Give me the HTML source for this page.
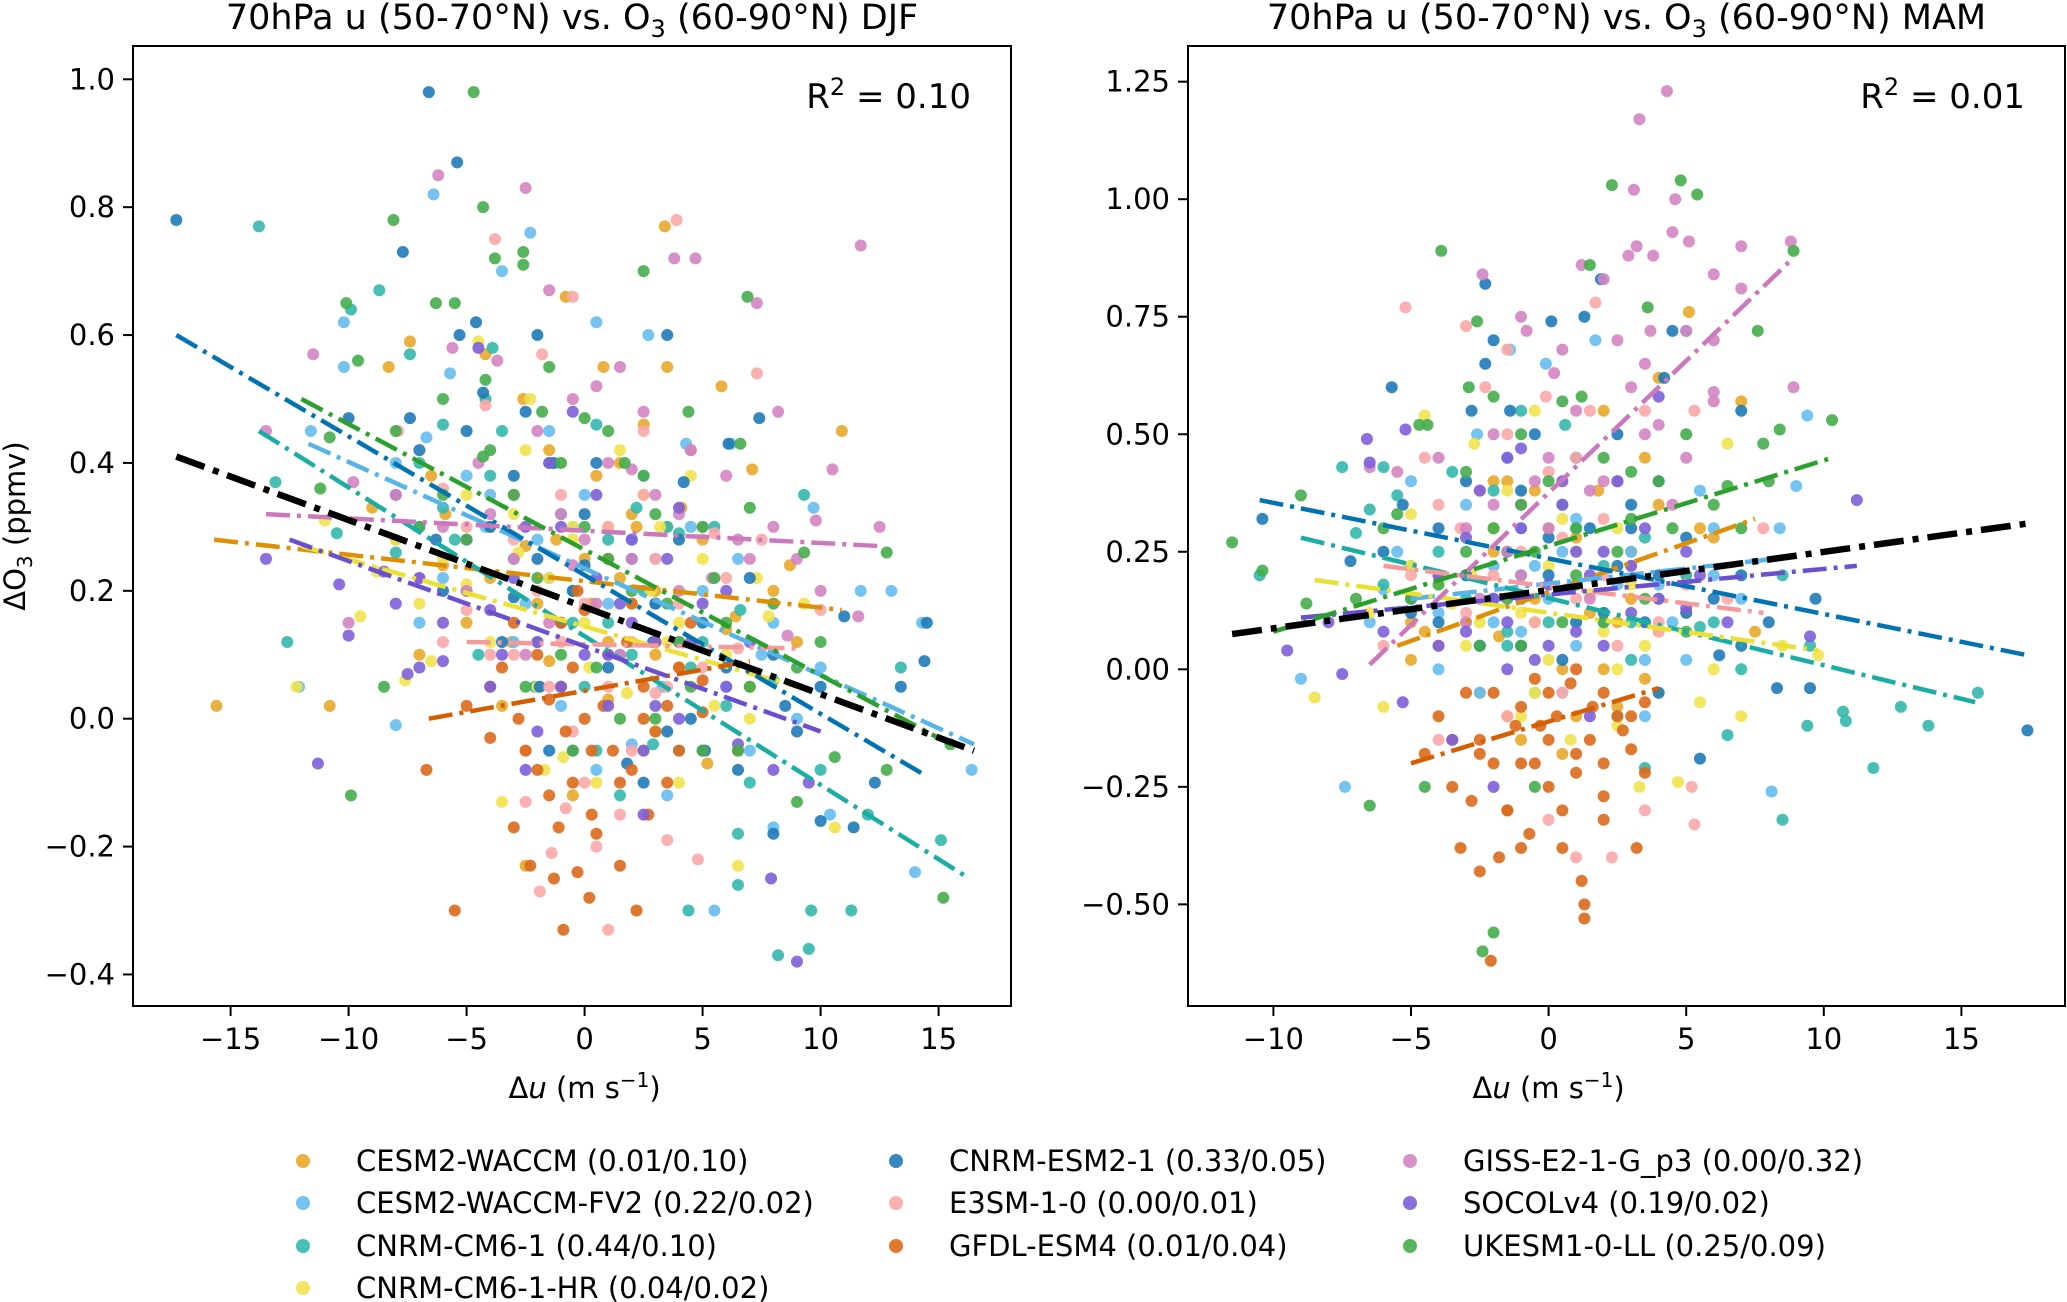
<!DOCTYPE html>
<html><head><meta charset="utf-8">
<style>
html,body{margin:0;padding:0;background:#fff;}
svg{display:block;font-family:"DejaVu Sans","Liberation Sans",sans-serif;}
</style></head>
<body>
<svg id="fig" width="2067" height="1302" viewBox="0 0 2067 1302" xmlns="http://www.w3.org/2000/svg"></svg>
<script>
// ---- data ----
const models = ["CESM2-WACCM","CESM2-WACCM-FV2","CNRM-CM6-1","CNRM-CM6-1-HR","CNRM-ESM2-1","E3SM-1-0","GFDL-ESM4","GISS-E2-1-G_p3","SOCOLv4","UKESM1-0-LL"];
const legendStats = ["(0.01/0.10)","(0.22/0.02)","(0.44/0.10)","(0.04/0.02)","(0.33/0.05)","(0.00/0.01)","(0.01/0.04)","(0.00/0.32)","(0.19/0.02)","(0.25/0.09)"];
const xTicksDJF = [-15,-10,-5,0,5,10,15];
const yTicksDJF = [-0.4,-0.2,0.0,0.2,0.4,0.6,0.8,1.0];
const yTickLabelsDJF = ["\u22120.4","\u22120.2","0.0","0.2","0.4","0.6","0.8","1.0"];
const xTicksMAM = [-10,-5,0,5,10,15];
const yTicksMAM = [-0.5,-0.25,0,0.25,0.5,0.75,1.0,1.25];
const yTickLabelsMAM = ["\u22120.50","\u22120.25","0.00","0.25","0.50","0.75","1.00","1.25"];
const r2Labels = ["0.10","0.01"];

const djfPoints = [
"-15.6,0.02 -10.8,0.02 3.4,0.77 -0.8,0.66 -4.2,0.57 -7.4,0.59 -8.3,0.55 0.8,0.55 3.5,0.55 5.8,0.52 10.9,0.45 -2.6,0.50 1.5,0.40 4.1,0.33 7.1,0.39 -5.9,0.32 -1.2,0.28 2.2,0.30 0.3,0.18 -3.1,0.12 3.0,0.10 -2.5,-0.23 6.4,0.16 8.7,0.24 -6.5,0.38 2.5,0.46 -4.0,0.22 1.0,0.03 5.2,-0.07 -1.5,0.09",
"-6.4,0.82 -2.3,0.76 -3.5,0.70 -10.2,0.55 -10.2,0.62 -5.7,0.54 0.5,0.62 2.7,0.60 -11.6,0.45 -6.7,0.44 -1.4,0.40 4.3,0.43 6.2,0.43 9.7,0.33 13.0,0.20 11.7,0.20 14.3,0.15 16.4,-0.08 14.0,-0.24 10.4,-0.15 8.0,-0.17 5.5,-0.30 -8.0,-0.01 -12.1,0.05 -4.2,0.30 2.0,0.28 7.5,0.10 -0.5,0.20 3.3,0.05 -7.0,0.15",
"-13.8,0.77 -8.7,0.67 -9.9,0.64 -7.4,0.57 -6.0,0.46 -4.2,0.50 -13.1,0.37 -12.6,0.12 -10.5,0.29 -3.9,0.58 2.2,0.33 0.5,0.46 -1.5,0.40 4.0,0.29 6.6,0.17 9.3,0.35 13.4,0.08 15.1,-0.19 11.3,-0.30 9.5,-0.36 8.2,-0.37 6.5,-0.26 4.4,-0.30 -2.1,0.05 2.9,-0.04 9.6,-0.30 12.0,-0.15 -5.5,0.28 1.0,0.15 -8.0,0.26",
"-12.2,0.05 -9.5,0.16 -7.6,0.06 -4.5,0.59 -2.3,0.50 -0.5,0.30 1.5,0.42 3.2,0.30 4.5,0.38 7.3,0.22 9.3,0.18 -8.8,0.23 -5.0,0.21 -1.0,0.15 1.8,0.04 4.0,-0.10 -0.9,-0.06 -3.5,-0.13 5.5,0.02 10.6,-0.17 6.5,-0.23 -6.5,0.09 0.2,0.08 2.8,0.20 -2.8,0.26 -11.0,0.31 7.8,0.16 -1.7,-0.08",
"-17.3,0.78 -6.6,0.98 -5.4,0.87 -7.7,0.73 -4.6,0.62 -5.3,0.60 -2.0,0.60 3.5,0.60 -10.0,0.47 -7.4,0.47 -1.3,0.40 -4.3,0.51 4.2,0.37 6.1,0.43 7.4,0.47 14.5,0.15 14.4,0.09 11.0,0.16 13.4,0.05 12.3,-0.10 10.0,-0.16 11.4,-0.17 8.0,-0.18 1.8,-0.07 5.1,-0.05 -3.0,0.19 0.0,0.24 -1.9,0.05 2.9,0.12 -6.3,0.28 8.5,0.02",
"3.9,0.78 -3.8,0.75 -0.5,0.66 7.3,0.54 -1.8,0.57 -4.2,0.49 2.5,0.45 5.5,0.29 7.5,0.28 10.0,0.17 -7.9,0.45 -5.0,0.17 -1.0,0.12 1.0,0.05 3.0,0.04 -2.5,-0.13 -1.4,-0.21 -1.9,-0.27 1.0,-0.33 4.8,-0.22 0.0,-0.10 2.0,-0.05 -3.0,0.10 6.5,0.11 -6.0,0.36 3.5,-0.19 -0.8,-0.14",
"-5.5,-0.30 -0.9,-0.33 2.2,-0.30 0.2,-0.28 -0.3,-0.24 -1.3,-0.25 1.5,-0.23 -2.3,-0.23 -3.0,-0.17 -1.1,-0.17 0.3,-0.15 2.7,-0.15 -0.5,-0.10 1.2,-0.05 -2.0,-0.08 3.5,-0.10 -4.0,-0.03 -6.7,-0.08 0.8,0.02 2.5,0.05 -1.5,0.03 4.0,0.08 5.0,0.01 6.5,-0.05 -3.5,0.08 1.8,0.12 0.0,0.17 -2.8,0.00 3.0,-0.02 -0.8,-0.02",
"-6.2,0.85 -2.5,0.83 11.7,0.74 3.8,0.72 4.7,0.72 7.3,0.65 -1.5,0.67 1.5,0.55 -11.5,0.57 -5.6,0.58 -3.7,0.56 0.5,0.52 8.2,0.48 10.5,0.39 9.8,0.31 12.5,0.30 11.6,0.16 -13.5,0.45 -9.8,0.37 -3.0,0.35 2.0,0.39 4.0,0.32 6.5,0.28 -7.0,0.22 -0.5,0.24 5.4,0.22 -10.0,0.15 1.5,0.10 8.6,0.13 -4.5,0.40",
"-11.3,-0.07 9.0,-0.38 7.9,-0.25 -10.0,0.13 -10.4,0.21 -8.5,0.23 -7.5,0.07 -6.0,0.09 -4.5,0.58 -0.5,0.48 4.0,0.33 -13.5,0.25 -2.5,0.30 0.5,0.22 2.0,0.15 4.5,0.12 6.0,0.20 3.0,0.02 -1.0,0.05 -3.5,0.10 6.5,-0.04 9.5,-0.10 2.5,-0.15 -4.0,0.17 -7.0,0.22 1.0,0.10 5.0,-0.05 -2.0,-0.02",
"-4.7,0.98 -4.3,0.80 -8.1,0.78 -2.6,0.73 -2.6,0.71 2.5,0.70 -3.8,0.72 -10.1,0.65 -5.5,0.65 -6.3,0.65 6.9,0.66 -9.6,0.56 -4.2,0.53 -1.8,0.48 0.0,0.47 4.4,0.48 6.6,0.43 -10.8,0.44 -11.2,0.36 -4.3,0.41 1.7,0.40 5.5,0.22 7.0,0.33 9.3,0.26 12.8,0.26 15.2,-0.28 15.5,-0.04 12.8,-0.08 10.6,-0.06 9.0,-0.13 -9.9,-0.12 -8.5,0.05 -1.0,0.10 3.0,0.00 5.0,-0.05 -6.0,0.35 1.0,0.25"
];
const djfPoints2 = [
"-3,0.35 -2,0.18 -1,0.05 0,0.25 1,0.12 2,0.32 3,0.20 4,0.08 5,0.28 6,0.14 -4,0.30 -5,0.15 -6,0.24 -7,0.10 7,0.05 8,0.20 -1.5,0.42 0.5,0.38 2.5,-0.05 -3.5,0.02 4.5,0.42 -0.5,-0.12 1.5,0.22 -2.5,0.27 3.5,0.30 -8,0.28 9,0.12 -9,0.33",
"-4,0.35 -3,0.12 -2,0.28 -1,0.02 0,0.35 1,0.18 2,-0.04 3,0.25 4,0.12 5,0.20 6,0.05 7,-0.05 8,0.15 -5,0.38 -6,0.22 -7,0.30 -8,0.40 9,0.00 10,0.08 -1.5,0.45 0.5,-0.08 2.5,0.38 -2.5,0.18 3.5,-0.12 -0.5,0.30 1.5,0.10 4.5,0.30 6.5,0.25",
"-7,0.40 -6,0.33 -5,0.20 -4,0.38 -3,0.25 -2,0.12 -1,0.32 0,0.05 1,0.28 2,0.10 3,0.18 4,-0.05 5,0.12 6,0.02 7,-0.10 8,0.06 10,-0.08 -3.5,0.45 -1.5,0.22 0.5,-0.05 2.5,0.20 4.5,0.08 -0.5,0.15 1.5,-0.12 3.5,0.30 -4.5,0.10 6.5,-0.18 5.5,0.30",
"-6,0.25 -5,0.35 -4,0.12 -3,0.32 -2,0.05 -1,0.40 0,0.15 1,0.30 2,0.18 3,-0.02 4,0.15 5,0.25 6,0.10 7,0.00 -7,0.18 -8,0.28 -1.5,0.22 0.5,-0.10 2.5,0.35 -2.5,0.42 3.5,0.12 -0.5,0.28",
"-8,0.35 -7,0.42 -6,0.20 -5,0.45 -4,0.30 -3,0.38 -2,0.25 -1,0.15 0,0.32 1,0.08 2,0.25 3,0.18 4,0.28 5,0.15 6,0.08 7,0.22 8,0.10 9,-0.02 10,0.05 -1.5,-0.05 0.5,0.40 2.5,-0.10 4.5,0.00 -2.5,0.48 3.5,-0.02 6.5,-0.08 -3.5,0.12 -0.5,0.20",
"-5,0.30 -4,0.10 -3,0.28 -2,0.20 -1,0.35 0,0.18 1,0.30 2,0.12 3,0.25 4,0.18 5,0.08 6,0.22 -6,0.12 -0.5,-0.02 1.5,-0.15 2.5,0.35 -1.5,0.05 0.5,-0.20 3.5,0.05 -2.5,-0.05",
"-4,0.05 -3,0.15 -2,0.10 -1,0.05 0,0.00 1,0.10 2,-0.08 3,0.12 4,-0.05 5,0.06 -5,0.02 -0.5,0.08 0.5,-0.18 1.5,-0.10 2.5,0.00 -1.5,-0.12 -2.5,-0.05 3.5,0.02 0.3,-0.05 -0.3,0.20 1.0,0.25 2.0,0.18 -1.0,0.15 4.5,0.15",
"-6,0.30 -5,0.20 -4,0.32 -3,0.25 -2,0.45 -1,0.32 0,0.28 1,0.40 2,0.25 3,0.35 4,0.20 5,0.30 6,0.38 7,0.25 8,0.30 -8,0.35 -1.5,0.15 0.5,0.18 2.5,0.48 -2.5,0.10 4.5,0.42 -0.5,0.50 9,0.25 10,0.20",
"-6,0.15 -5,0.28 -4,0.05 -3,0.22 -2,0.12 -1,0.30 0,0.10 1,0.02 2,0.28 3,0.12 4,0.00 5,0.18 6,0.05 7,0.12 8,-0.08 -7,0.08 -8,0.18 -1.5,0.40 0.5,0.35 2.5,-0.05 -2.5,-0.08 3.5,0.25 -0.5,-0.05 1.5,0.18",
"-8,0.45 -7,0.30 -6,0.50 -5,0.28 -4,0.42 -3,0.35 -2,0.22 -1,0.40 0,0.30 1,0.45 2,0.20 3,0.32 4,0.12 5,0.30 6,0.15 7,0.05 8,0.18 9,0.08 10,0.12 -1.5,0.55 0.5,0.08 2.5,0.38 -2.5,0.05 3.5,0.18 -0.5,-0.05 1.5,0.00 4.5,0.05 6.5,-0.05"
];
const mamPoints = [
"5.1,0.76 7.0,0.57 4.0,0.62 -1.5,0.40 1.8,0.38 3.0,0.25 5.5,0.30 -3.0,0.20 -0.5,0.15 2.5,0.10 -4.0,0.05 0.5,0.00 -2.5,-0.05 1.0,-0.10 -1.0,-0.15 4.0,0.15 7.5,0.08 -5.0,0.02 -4.5,0.08 0.0,0.30 2.0,0.55 -2.0,0.40 3.5,-0.02 -1.8,0.07",
"-0.1,0.65 -1.4,0.68 1.7,0.70 -2.6,0.50 -5.5,0.25 -7.4,-0.25 8.1,-0.26 9.4,0.54 9.0,0.39 8.4,0.30 -6.0,0.17 -3.0,0.20 0.5,0.25 2.5,0.18 5.5,0.38 6.0,0.20 -2.0,0.10 -9.0,-0.02 -4.0,0.00 1.0,0.05 3.5,0.02 -1.0,0.30 4.5,0.10 7.0,0.15 -6.5,0.10",
"5.0,0.72 -1.0,0.55 0.6,0.52 -5.5,0.37 -6.0,0.43 -7.5,0.43 -6.5,0.34 -3.5,0.42 -7.0,0.29 -10.5,0.20 8.5,0.20 9.5,0.05 10.7,-0.09 10.8,-0.11 12.8,-0.08 13.8,-0.12 15.6,-0.05 11.8,-0.21 8.5,-0.32 9.4,-0.12 5.5,0.09 3.0,0.10 1.0,0.18 -2.0,0.30 3.5,-0.21 6.5,-0.14 -6.0,0.18 -1.5,0.05",
"-4.5,0.54 -2.7,0.48 -0.5,0.55 2.5,0.30 -5.0,0.33 -8.5,-0.06 -6.0,-0.08 -0.5,0.10 1.5,0.16 3.5,0.05 5.5,-0.07 6.5,0.48 4.7,-0.24 3.3,-0.25 -2.8,0.20 -1.0,-0.10 0.8,-0.15 2.5,0.00 4.0,0.08 9.8,0.03 7.0,-0.10 -3.5,0.14 -6.5,0.12 0.0,0.22 8.5,0.05",
"-2.3,0.82 -2.0,0.70 1.3,0.75 0.1,0.74 1.9,0.83 -2.3,0.65 -5.7,0.60 -2.8,0.55 -1.4,0.55 4.2,0.62 4.5,0.72 7.0,0.55 -10.4,0.32 -7.2,0.23 -5.3,0.35 -3.0,0.20 0.0,0.28 2.5,0.22 4.0,0.40 5.0,0.12 6.2,0.03 8.3,-0.04 9.5,-0.04 9.7,0.15 17.4,-0.13 5.5,-0.19 4.0,-0.05 -1.0,0.05 1.0,0.10 -4.0,0.10 3.0,0.30 7.0,0.20",
"-5.2,0.77 -3.0,0.73 1.7,0.78 -1.5,0.68 -2.3,0.60 -0.1,0.58 1.0,0.45 3.5,0.55 5.3,0.55 -4.5,0.45 -5.0,0.20 -3.2,0.30 -1.0,0.35 2.0,0.20 4.0,0.08 6.5,0.15 7.8,0.30 -4.0,-0.15 -1.5,-0.10 0.0,-0.32 1.0,-0.40 2.3,-0.40 3.5,-0.30 5.3,-0.33 5.2,-0.25 -6.0,0.05 0.5,-0.05",
"-2.1,-0.62 -1.0,-0.38 -1.8,-0.40 -2.5,-0.43 -3.2,-0.38 0.5,-0.38 1.2,-0.45 1.3,-0.50 1.3,-0.53 3.2,-0.38 -0.7,-0.35 -1.5,-0.30 0.0,-0.25 2.0,-0.27 -2.8,-0.28 -0.5,-0.20 1.0,-0.18 -1.2,-0.12 0.3,-0.10 2.7,-0.13 3.5,-0.07 -3.5,-0.15 -4.5,-0.18 -2.0,-0.05 0.8,-0.03 2.0,-0.20 -0.3,-0.12 1.6,-0.08 -2.5,-0.15 3.0,-0.17",
"4.3,1.23 3.3,1.17 3.1,1.02 4.6,1.00 5.1,0.91 4.5,0.93 3.2,0.90 3.8,0.88 7.0,0.90 8.8,0.91 2.9,0.88 2.0,0.83 -2.4,0.84 1.2,0.86 6.0,0.84 7.0,0.81 5.0,0.72 3.7,0.72 6.0,0.59 8.9,0.60 -0.8,0.72 -1.0,0.75 0.2,0.63 3.5,0.50 6.0,0.57 -4.0,0.45 -2.0,0.35 0.0,0.30 1.5,0.15 -5.5,0.42 -6.5,0.43 -3.0,0.10 -1.0,0.20 2.5,0.40 4.5,0.35",
"-6.6,0.49 -5.2,0.51 -6.5,0.44 -7.5,-0.01 -9.5,0.04 -5.3,-0.07 -1.0,0.47 -1.5,0.45 4.0,0.58 3.5,0.30 0.5,0.40 -3.0,0.28 -1.0,0.15 1.0,0.08 2.0,0.25 3.0,0.12 5.0,0.13 6.5,0.10 9.5,0.07 11.2,0.36 -4.0,0.05 -1.5,0.00 0.0,0.05 1.5,-0.10 -3.5,-0.15 -2.0,-0.25 5.5,0.20 -8.0,0.10",
"2.3,1.03 4.8,1.04 5.4,1.01 8.9,0.89 -3.9,0.89 1.5,0.86 3.6,0.77 7.6,0.72 -2.6,0.74 -2.9,0.60 -2.0,0.58 0.5,0.57 1.2,0.58 -4.4,0.52 -4.7,0.52 8.4,0.51 10.3,0.53 7.8,0.48 6.5,0.39 8.0,0.40 -11.5,0.27 -10.4,0.21 -9.0,0.37 -8.8,0.14 -5.5,0.33 -3.0,0.25 -1.0,0.35 1.0,0.30 3.0,0.42 4.5,0.30 -6.5,-0.29 -2.0,-0.56 -2.4,-0.60 -0.5,-0.25 -4.5,-0.25 2.0,0.10 -1.0,0.05 5.0,0.08 -7.0,0.15"
];
const mamPoints2 = [
"-4,0.20 -3,0.10 -2,0.25 -1,0.05 0,0.18 1,0.28 2,0.00 3,0.15 4,0.35 5,0.20 6,0.28 -5,0.10 -1.5,-0.10 0.5,-0.18 2.5,-0.08 3.5,0.45 -0.5,0.38 1.5,0.12",
"-4,0.12 -3,0.35 -2,0.22 -1,0.08 0,0.15 1,0.32 2,0.10 3,0.25 4,0.18 5,0.02 6,0.30 -5,0.40 -1.5,0.45 0.5,-0.05 2.5,0.40 -2.5,-0.05 3.5,-0.10 -0.5,0.22",
"-4,0.25 -3,0.15 -2,0.38 -1,0.20 0,0.10 1,0.30 2,0.22 3,0.02 4,0.15 5,0.20 6,0.10 7,0.00 -5,0.22 -1.5,0.08 0.5,0.35 2.5,-0.10 -2.5,0.05 3.5,0.28 -0.5,-0.05",
"-4,0.18 -3,0.05 -2,0.30 -1,0.12 0,0.02 1,0.25 2,0.08 3,0.18 4,-0.05 5,0.12 6,0.00 -5,0.22 -1.5,0.38 0.5,0.32 2.5,-0.12 -2.5,0.10 -0.5,-0.05",
"-4,0.30 -3,0.40 -2,0.15 -1,0.38 0,0.20 1,0.45 2,0.12 3,0.35 4,0.20 5,0.28 6,0.15 7,0.05 -5,0.12 -6,0.25 -1.5,0.25 0.5,0.02 2.5,0.50 -2.5,0.05 3.5,0.10 -0.5,0.50 1.5,0.30 8,0.10",
"-4,0.35 -3,0.12 -2,0.20 -1,0.25 0,0.42 1,0.15 2,0.32 3,0.22 4,0.10 5,0.18 -1.5,0.50 0.5,0.28 2.5,0.05 -2.5,0.38 -0.5,0.10 1.5,0.55",
"-3,-0.05 -2,-0.20 -1,-0.08 0,-0.15 1,-0.22 2,-0.05 3,-0.10 -4,-0.10 -1.5,-0.30 0.5,-0.30 1.5,-0.15 -0.5,-0.02 2.5,-0.10 -2.5,-0.18 0,-0.05 1,0.00 -1,-0.20 2,-0.32 -3.5,-0.25 3.5,-0.22",
"-3,0.30 -2,0.50 -1,0.35 0,0.45 1,0.55 2,0.40 3,0.60 4,0.52 5,0.45 -4,0.20 -1.5,0.25 0.5,0.68 2.5,0.70 -2.5,0.15 1.5,0.38 3.5,0.65 -0.5,0.40 6,0.70",
"-4,0.20 -3,0.08 -2,0.15 -1,0.30 0,0.18 1,0.25 2,0.05 3,0.22 4,0.15 5,0.25 -5,0.15 -6,0.08 -1.5,0.10 0.5,0.35 2.5,0.40 -2.5,0.38 -0.5,0.02 1.5,0.20",
"-4,0.18 -3,0.42 -2,0.30 -1,0.50 0,0.40 1,0.20 2,0.45 3,0.32 4,0.40 5,0.50 6,0.35 -5,0.15 -6,0.30 -1.5,0.15 0.5,0.10 2.5,0.25 -2.5,0.05 3.5,0.15 -0.5,0.25 7,0.30"
];
// regression line endpoints [x1,y1,x2,y2] per model
const djfFits = [[-15.7,0.28,10.9,0.17],[-11.7,0.43,16.5,-0.04],[-13.8,0.45,16.3,-0.25],[-12,0.27,9,0.05],[-17.3,0.60,14.5,-0.09],[-5,0.12,9,0.11],[-6.6,0.0,7,0.09],[-13.5,0.32,12.5,0.27],[-12.5,0.28,10,-0.02],[-12,0.5,15.5,-0.04]];
const djfMean = [-17.3,0.41,16.5,-0.05];
const mamFits = [[-5.5,0.05,7.5,0.32],[-5,0.15,9,0.24],[-9,0.28,15.5,-0.07],[-8.5,0.19,9.8,0.04],[-10.5,0.36,17.4,0.03],[-6,0.22,7.8,0.12],[-5,-0.2,4,-0.04],[-6.5,0.01,8.8,0.87],[-9,0.11,11.2,0.22],[-10,0.08,10.3,0.45]];
const mamMean = [-11.5,0.075,17.4,0.31];

const markerColors = ["#e9a829","#66bdee","#34b8ad","#f0e34c","#1f7ab8","#fba7a9","#dc6a1c","#d384c2","#7e5fd8","#45ad4c"];
const lineColors = ["#de8f05","#56b4e9","#1aada3","#ece133","#0173b2","#f59a9a","#d55e00","#cc78bc","#6a4fd0","#2ca02c"];

const NS = "http://www.w3.org/2000/svg";
const svg = document.getElementById("fig");
function el(tag, attrs, parent){ const e=document.createElementNS(NS,tag); for(const k in attrs) e.setAttribute(k,attrs[k]); (parent||svg).appendChild(e); return e; }
function parsePts(s){ return s.trim().split(/\s+/).map(p=>p.split(",").map(Number)); }

function panel(p){
  const g = el("g",{});
  
  
  const sx = v => p.x0 + v*p.xs;
  const sy = v => p.y0 - v*p.ys;
  const cp = "clip-"+p.name;
  const cl = el("clipPath",{id:cp},g); el("rect",{x:p.L,y:p.T,width:p.R-p.L,height:p.B-p.T},cl);
  const plot = el("g",{"clip-path":"url(#"+cp+")"},g);
  p.points.forEach((s,i)=>{
    parsePts(s+" "+p.points2[i]).forEach(([x,y])=>{
      const c = el("circle",{cx:sx(x),cy:sy(y),r:6,fill:markerColors[i],"fill-opacity":0.9},plot);
      
      
    });
  });
  p.fits.forEach((f,i)=>{
    const l = el("line",{x1:sx(f[0]),y1:sy(f[1]),x2:sx(f[2]),y2:sy(f[3]),stroke:lineColors[i],"stroke-width":4.5,"stroke-dasharray":"24,7,4,7"},plot);
    
    
  });
  const m = p.mean;
  const ml = el("line",{x1:sx(m[0]),y1:sy(m[1]),x2:sx(m[2]),y2:sy(m[3]),stroke:"#000","stroke-width":6.5,"stroke-dasharray":"30,9,6,9"},plot);
  
  
  const fr = el("rect",{x:p.L,y:p.T,width:p.R-p.L,height:p.B-p.T,fill:"none",stroke:"#000","stroke-width":2},g);
  
  
  p.xt.forEach(v=>{
    const x=sx(v);
    el("line",{x1:x,y1:p.B,x2:x,y2:p.B+10,stroke:"#000","stroke-width":2},g);
    const t=el("text",{x:x,y:p.B+43,"font-size":29,"text-anchor":"middle"},g);
    t.textContent = v<0 ? "\u2212"+Math.abs(v) : String(v);
    
    
  });
  p.yt.forEach((v,i)=>{
    const y=sy(v);
    el("line",{x1:p.L-10,y1:y,x2:p.L,y2:y,stroke:"#000","stroke-width":2},g);
    const t=el("text",{x:p.L-18,y:y+10,"font-size":29,"text-anchor":"end"},g);
    t.textContent = p.ytl[i];
    
    
  });
  const tt = el("text",{x:(p.L+p.R)/2,y:29,"font-size":35,"text-anchor":"middle"},g);
  tt.innerHTML = "70hPa u (50-70\u00b0N) vs. O<tspan font-size='24' dy='8'>3</tspan><tspan dy='-8'> (60-90\u00b0N) "+p.season+"</tspan>";
  
  
  const xl = el("text",{x:sx(0),y:p.B+92,"font-size":29,"text-anchor":"middle"},g);
  xl.innerHTML = "\u0394<tspan font-style='italic'>u</tspan> (m s<tspan font-size='20' dy='-11'>\u22121</tspan><tspan dy='11'>)</tspan>";
  
  
  const r2 = el("text",{x:p.R-40,y:108,"font-size":34,"text-anchor":"end"},g);
  r2.innerHTML = "R<tspan font-size='24' dy='-13'>2</tspan><tspan dy='13'> = "+p.r2+"</tspan>";
  
  
}

panel({name:"djf-panel",season:"DJF",L:133,R:1011,T:46,B:1006,x0:584.6,xs:23.6,y0:718.7,ys:639.4,
  xt:xTicksDJF,yt:yTicksDJF,ytl:yTickLabelsDJF,points:djfPoints,points2:djfPoints2,fits:djfFits,mean:djfMean,r2:r2Labels[0]});
panel({name:"mam-panel",season:"MAM",L:1188,R:2065,T:46,B:1006,x0:1548.6,xs:27.52,y0:669.3,ys:470.1,
  xt:xTicksMAM,yt:yTicksMAM,ytl:yTickLabelsMAM,points:mamPoints,points2:mamPoints2,fits:mamFits,mean:mamMean,r2:r2Labels[1]});

const yl = el("text",{x:0,y:0,"font-size":29,"text-anchor":"middle",transform:"translate(25,526) rotate(-90)"});
yl.innerHTML = "\u0394O<tspan font-size='20' dy='7'>3</tspan><tspan dy='-7'> (ppmv)</tspan>";



// legend
const legCols = [303, 896, 1410];
const legRows = [1161, 1203, 1246, 1288];
const order = [[0,1,2,3],[4,5,6],[7,8,9]];
const lg = el("g",{});


order.forEach((col,ci)=>col.forEach((mi,ri)=>{
  const e = el("g",{},lg);
  
  
  el("circle",{cx:legCols[ci],cy:legRows[ri],r:7,fill:markerColors[mi],"fill-opacity":0.9},e);
  const t = el("text",{x:legCols[ci]+53,y:legRows[ri]+10,"font-size":29},e);
  t.textContent = models[mi]+" "+legendStats[mi];
}));
</script>
</body></html>
